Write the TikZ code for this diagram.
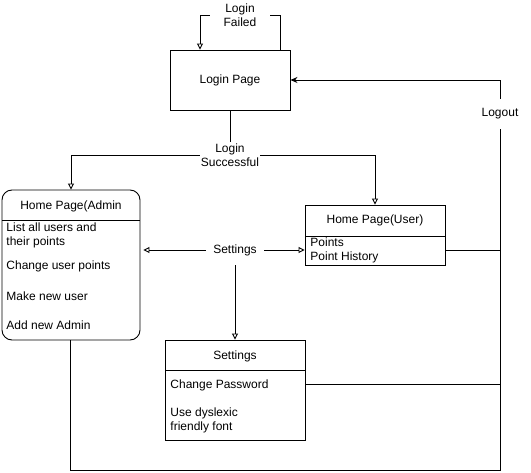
\documentclass[tikz,border=0pt]{standalone}
\usepackage{fontspec}
\setmainfont{Liberation Sans}
\usetikzlibrary{arrows.meta}
\begin{document}
\begin{tikzpicture}[x=1pt,y=-1pt,line width=0.9pt,
  every node/.style={font=\fontsize{12}{14}\selectfont},
  box/.style={draw,rectangle,inner sep=0pt},
  item/.style={anchor=west,inner sep=0pt,align=left},
  lbl/.style={align=center,inner sep=1pt},
  opena/.style={-{Triangle[open,length=6pt,width=6pt]}},
  solida/.style={-{Stealth[length=7pt,width=6pt]}}]
\useasboundingbox (0,0) rectangle (531,473);

% pages
\node[box,minimum width=120pt,minimum height=60pt] (login) at (230,80) {Login Page};
\node[box,rounded corners=10pt,minimum width=138pt,minimum height=150pt] (admin) at (71,265) {};
\node[box,minimum width=140pt,minimum height=60pt] (user) at (375,235) {};
\node[box,minimum width=140pt,minimum height=100pt] (set) at (235,390) {};

% header rows
\node (admint) at (71,206) {Home Page(Admin};
\draw (2,220) -- (140,220);
\node (usert) at (375,220) {Home Page(User)};
\draw (305,236) -- (445,236);
\node (sett) at (235,356) {Settings};
\draw (165,370) -- (305,370);

% entries
\node[item] (a1) at (6,235) {List all users and\\their points};
\node[item] (a2) at (6,266) {Change user points};
\node[item] (a3) at (6,296) {Make new user};
\node[item] (a4) at (6,325) {Add new Admin};
\node[item] (u1) at (310,250) {Points\\Point History};
\node[item] (s1) at (170,385) {Change Password};
\node[item] (s2) at (170,420) {Use dyslexic\\friendly font};

% transition labels
\node[lbl,minimum width=60pt,minimum height=26pt] (lf) at (240,15) {Login\\Failed};
\node[lbl,minimum width=60pt,minimum height=24pt] (ls) at (230,155) {Login\\Successful};
\node[lbl,minimum width=58pt,minimum height=30pt] (sl) at (235,250) {Settings};
\node[lbl,minimum height=30pt] (lo) at (500,114) {Logout};

% transitions
\draw[opena] (lf.west) -| ([xshift=-30pt]login.north);
\draw (lf.east) -| ([xshift=50pt]login.north);
\draw (login.south) -- (ls.north);
\draw[opena] (ls.west) -| (admin.north);
\draw[opena] (ls.east) -| (user.north);
\coordinate (aend) at ([xshift=3pt]admin.east |- sl.west);
\draw[opena] (sl.west) -- (aend);
\draw[opena] (sl.east) -- (user.west |- sl.east);
\draw[opena] (sl.south) -- (set.north);

% logout paths
\coordinate (abot) at (70,470);
\draw (admin.south -| abot) -- (abot) -| (lo.south);
\draw[solida] (lo.north) |- (login.east);
\coordinate (uout) at ([yshift=-15pt]user.east);
\draw (uout) -- (uout -| lo);
\coordinate (sout) at ([yshift=6pt]set.east);
\draw (sout) -- (sout -| lo);
\end{tikzpicture}
\end{document}
